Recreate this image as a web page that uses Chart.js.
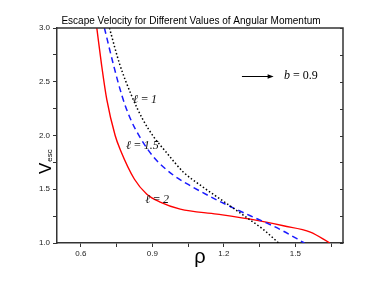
<!DOCTYPE html>
<html>
<head>
<meta charset="utf-8">
<script src="https://cdn.jsdelivr.net/npm/chart.js@4.4.1/dist/chart.umd.min.js"></script>
<style>
  html, body { margin: 0; padding: 0; background: #fff; }
  #wrap { width: 382px; height: 287px; }
</style>
</head>
<body>
<div id="wrap"><canvas id="escChart" width="382" height="287"></canvas></div>
<script>
// 곡선 데이터 (rho, v_esc) - 그림에서 읽은 값
const rhoL1 = [0.720, 0.762, 0.815, 0.860, 0.905, 0.960, 1.030, 1.100, 1.197, 1.297, 1.366, 1.430];
const vescL1 = [3.0, 2.67, 2.36, 2.15, 1.99, 1.84, 1.66, 1.54, 1.39, 1.235, 1.125, 1.0];

const rhoL15 = [0.699, 0.737, 0.774, 0.807, 0.849, 0.905, 0.989, 1.070, 1.171, 1.311, 1.381, 1.450, 1.538];
const vescL15 = [3.0, 2.657, 2.36, 2.16, 1.98, 1.80, 1.63, 1.52, 1.40, 1.253, 1.185, 1.11, 1.0];

const rhoL2 = [0.667, 0.687, 0.709, 0.744, 0.765, 0.825, 0.877, 0.933, 1.017, 1.171, 1.311, 1.450, 1.563, 1.645];
const vescL2 = [3.0, 2.657, 2.333, 2.0, 1.87, 1.593, 1.454, 1.38, 1.315, 1.269, 1.222, 1.160, 1.102, 1.0];

// 눈금
const xTicks = [0.6, 0.75, 0.9, 1.05, 1.2, 1.35, 1.5, 1.65];
const xLabels = ['0.6', '', '0.9', '', '1.2', '', '1.5', ''];
const yTicks = [1.0, 1.25, 1.5, 1.75, 2.0, 2.25, 2.5, 2.75, 3.0];
const yLabels = ['1.0', '', '1.5', '', '2.0', '', '2.5', '', '3.0'];

// 곡선 라벨 / 화살표 (데이터 좌표)
const curveLabels = [
  { text: 'ℓ\u2009=\u20091', rho: 0.819, v: 2.33 },
  { text: 'ℓ\u2009=\u20091.5', rho: 0.789, v: 1.90 },
  { text: 'ℓ\u2009=\u20092', rho: 0.870, v: 1.40 }
];
const arrowFrom = { rho: 1.276, v: 2.556 };
const arrowTo = { rho: 1.409, v: 2.556 };
const bLabel = { rho: 1.452, v: 2.556 };

function toPoints(xs, ys) {
  return xs.map((x, i) => ({ x: x, y: ys[i] }));
}

const axisColor = '#333';
const tickFont = { family: 'Liberation Sans, Arial, sans-serif', size: 8 };

// 추가 그리기 (테두리, V_esc, 라벨, 화살표)
const extrasPlugin = {
  id: 'extras',
  afterDraw(chart) {
    const ctx = chart.ctx;
    const xs = chart.scales.x;
    const ys = chart.scales.y;
    const a = chart.chartArea;
    ctx.save();

    // 위/오른쪽 테두리
    ctx.strokeStyle = axisColor;
    ctx.lineWidth = 1.5;
    ctx.beginPath();
    ctx.moveTo(a.left, a.top);
    ctx.lineTo(a.right, a.top);
    ctx.lineTo(a.right, a.bottom);
    ctx.stroke();

    // 오른쪽 안쪽 눈금
    ctx.lineWidth = 1;
    yTicks.forEach(v => {
      const py = Math.round(ys.getPixelForValue(v)) + 0.5;
      ctx.beginPath();
      ctx.moveTo(a.right, py);
      ctx.lineTo(a.right - 3, py);
      ctx.stroke();
    });

    // V_esc 축 제목
    ctx.fillStyle = '#000';
    ctx.translate(51, 174);
    ctx.rotate(-Math.PI / 2);
    ctx.textBaseline = 'alphabetic';
    ctx.textAlign = 'left';
    ctx.font = '17px Liberation Sans, Arial, sans-serif';
    ctx.fillText('V', 0, 0);
    const vw = ctx.measureText('V').width;
    ctx.font = '8px Liberation Sans, Arial, sans-serif';
    ctx.fillText('esc', vw + 1, 1);
    ctx.setTransform(1, 0, 0, 1, 0, 0);

    // 곡선 라벨
    ctx.font = 'italic 12px Liberation Serif, DejaVu Serif, serif';
    ctx.textBaseline = 'middle';
    ctx.fillStyle = '#111';
    curveLabels.forEach(l => {
      ctx.fillText(l.text, xs.getPixelForValue(l.rho), ys.getPixelForValue(l.v));
    });

    // 화살표
    const x1 = xs.getPixelForValue(arrowFrom.rho);
    const x2 = xs.getPixelForValue(arrowTo.rho);
    const y1 = Math.round(ys.getPixelForValue(arrowFrom.v)) + 0.5;
    ctx.strokeStyle = '#000';
    ctx.lineWidth = 1;
    ctx.beginPath();
    ctx.moveTo(x1, y1);
    ctx.lineTo(x2 - 4, y1);
    ctx.stroke();
    ctx.beginPath();
    ctx.moveTo(x2, y1);
    ctx.lineTo(x2 - 6, y1 - 2.2);
    ctx.lineTo(x2 - 6, y1 + 2.2);
    ctx.closePath();
    ctx.fillStyle = '#000';
    ctx.fill();

    // b = 0.9
    const bx = xs.getPixelForValue(bLabel.rho);
    const by = ys.getPixelForValue(bLabel.v);
    ctx.font = 'italic 12px Liberation Serif, DejaVu Serif, serif';
    ctx.fillText('b', bx, by);
    const bw = ctx.measureText('b ').width;
    ctx.font = '12px Liberation Serif, DejaVu Serif, serif';
    ctx.fillText('= 0.9', bx + bw, by);

    ctx.restore();
  }
};

const ctx = document.getElementById('escChart').getContext('2d');
const escChart = new Chart(ctx, {
  type: 'scatter',
  data: {
    datasets: [{
      label: 'l = 1',
      data: toPoints(rhoL1, vescL1),
      showLine: true,
      borderColor: '#000',
      borderWidth: 1.5,
      borderDash: [1.5, 2.2],
      pointRadius: 0,
      cubicInterpolationMode: 'monotone'
    }, {
      label: 'l = 1.5',
      data: toPoints(rhoL15, vescL15),
      showLine: true,
      borderColor: '#1a1aff',
      borderWidth: 1.5,
      borderDash: [6, 4],
      pointRadius: 0,
      cubicInterpolationMode: 'monotone'
    }, {
      label: 'l = 2',
      data: toPoints(rhoL2, vescL2),
      showLine: true,
      borderColor: '#ff0000',
      borderWidth: 1.4,
      pointRadius: 0,
      cubicInterpolationMode: 'monotone'
    }]
  },
  options: {
    responsive: false,
    animation: false,
    layout: { padding: 0 },
    plugins: {
      legend: { display: false },
      tooltip: { enabled: false },
      title: {
        display: true,
        text: 'Escape Velocity for Different Values of Angular Momentum',
        color: '#000',
        font: { family: 'Liberation Sans, Arial, sans-serif', size: 10, weight: 'normal' },
        padding: { top: 15, bottom: 1 }
      }
    },
    scales: {
      x: {
        type: 'linear',
        min: 0.5,
        max: 1.7,
        afterBuildTicks: s => { s.ticks = xTicks.map(v => ({ value: v })); },
        afterFit: s => { s.height = 44; },
        ticks: {
          callback: (v, i) => xLabels[i],
          font: tickFont,
          color: '#222',
          padding: 2,
          maxRotation: 0,
          autoSkip: false
        },
        grid: { drawOnChartArea: false, tickLength: 4, color: axisColor, lineWidth: 1 },
        border: { color: axisColor, width: 1.5 },
        title: {
          display: true,
          text: 'ρ',
          color: '#000',
          font: { family: 'Liberation Sans, Arial, sans-serif', size: 20 },
          padding: { top: 0, bottom: 18 }
        }
      },
      y: {
        min: 1,
        max: 3,
        afterBuildTicks: s => { s.ticks = yTicks.map(v => ({ value: v })); },
        afterFit: s => { s.width = 57; },
        ticks: {
          callback: (v, i) => yLabels[i],
          font: tickFont,
          color: '#222',
          padding: 3,
          autoSkip: false
        },
        grid: { drawOnChartArea: false, tickLength: 4, color: axisColor, lineWidth: 1 },
        border: { color: axisColor, width: 1.5 }
      },
      // 오른쪽 여백용 축 (그리지 않음)
      yRight: {
        position: 'right',
        min: 1,
        max: 3,
        afterFit: s => { s.width = 39; },
        ticks: { display: false },
        grid: { display: false },
        border: { display: false }
      }
    }
  },
  plugins: [extrasPlugin]
});
</script>
</body>
</html>
